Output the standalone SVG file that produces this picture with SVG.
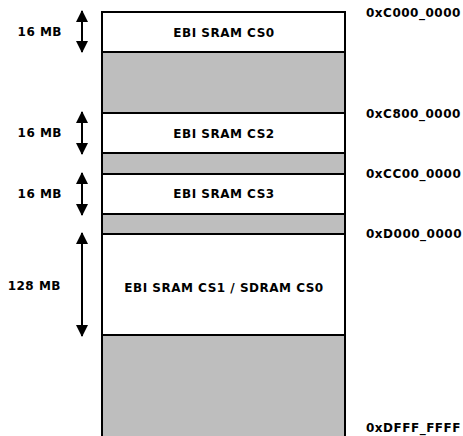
<svg xmlns="http://www.w3.org/2000/svg" width="463" height="436" viewBox="0 0 463 436">
  <defs>
    <style>
      .region { stroke: #000; stroke-width: 2; }
      .used { fill: #fff; }
      .free { fill: #bebebe; }
      .label { font-family: "DejaVu Sans", sans-serif; font-weight: bold; font-size: 12px; letter-spacing: 0.5px; fill: #000; }
      .mid { text-anchor: middle; }
      .size { text-anchor: end; }
      .span { stroke: #000; stroke-width: 2; fill: none; marker-start: url(#head); marker-end: url(#head); }
    </style>
    <marker id="head" viewBox="0 0 12 12" refX="11" refY="6" markerWidth="12" markerHeight="12" markerUnits="userSpaceOnUse" orient="auto-start-reverse">
      <path d="M0,0 L12,6 L0,12 Z" fill="#000"/>
    </marker>
  </defs>

  <!-- memory map regions -->
  <g id="map">
    <g id="cs0"><rect class="region used" x="102" y="12" width="243" height="40"/><text class="label mid" x="224" y="37">EBI SRAM CS0</text></g>
    <g id="gap0"><rect class="region free" x="102" y="52" width="243" height="61"/></g>
    <g id="cs2"><rect class="region used" x="102" y="113" width="243" height="40"/><text class="label mid" x="224" y="138">EBI SRAM CS2</text></g>
    <g id="gap2"><rect class="region free" x="102" y="153" width="243" height="21"/></g>
    <g id="cs3"><rect class="region used" x="102" y="174" width="243" height="40"/><text class="label mid" x="224" y="198">EBI SRAM CS3</text></g>
    <g id="gap3"><rect class="region free" x="102" y="214" width="243" height="20"/></g>
    <g id="cs1"><rect class="region used" x="102" y="234" width="243" height="101"/><text class="label mid" x="224" y="292">EBI SRAM CS1 / SDRAM CS0</text></g>
    <g id="gap1"><rect class="region free" x="102" y="335" width="243" height="110"/></g>
  </g>

  <!-- size spans -->
  <g id="connectors">
    <line class="span" x1="82" y1="11" x2="82" y2="52"/>
    <line class="span" x1="82" y1="112" x2="82" y2="154"/>
    <line class="span" x1="82" y1="173" x2="82" y2="215"/>
    <line class="span" x1="82" y1="233" x2="82" y2="336"/>
  </g>

  <g id="sizes">
    <text class="label size" x="62" y="36">16 MB</text>
    <text class="label size" x="62" y="137">16 MB</text>
    <text class="label size" x="62" y="198">16 MB</text>
    <text class="label size" x="61" y="290">128 MB</text>
  </g>

  <g id="addresses">
    <text class="label" x="366" y="17">0xC000_0000</text>
    <text class="label" x="366" y="118">0xC800_0000</text>
    <text class="label" x="366" y="178">0xCC00_0000</text>
    <text class="label" x="366" y="238">0xD000_0000</text>
    <text class="label" x="366" y="432">0xDFFF_FFFF</text>
  </g>
</svg>
